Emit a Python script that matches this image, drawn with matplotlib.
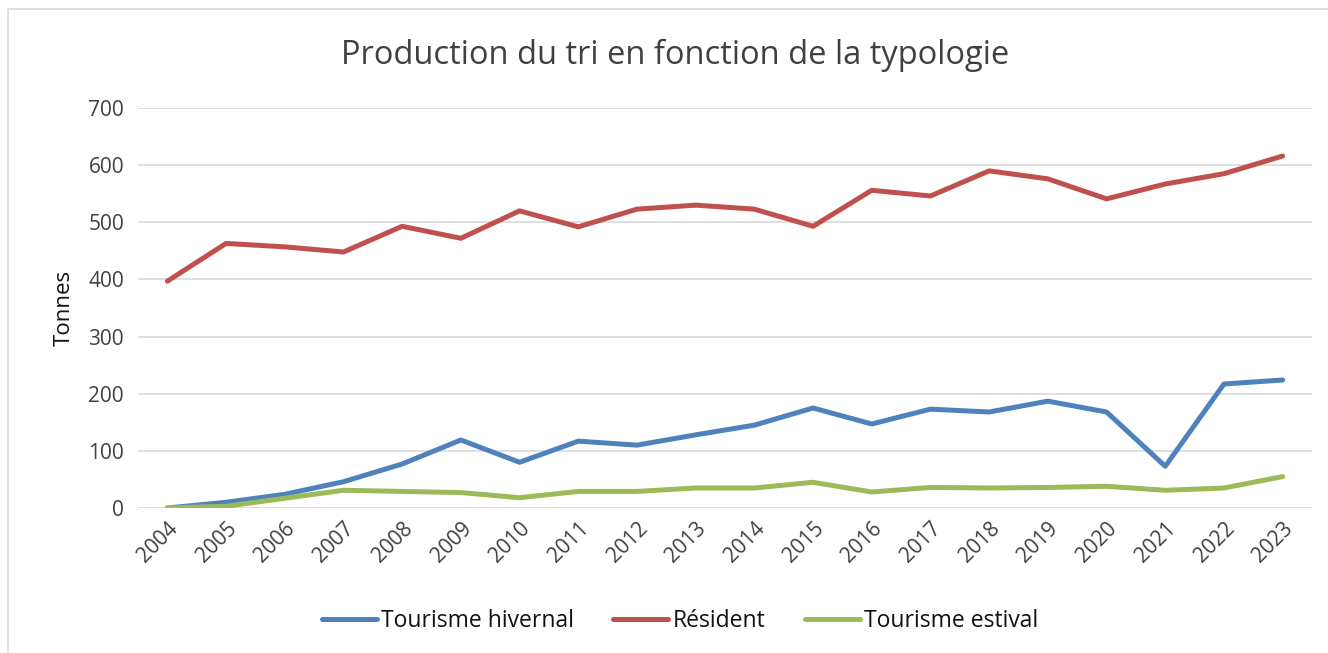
import matplotlib
matplotlib.use("Agg")
import matplotlib.pyplot as plt
from matplotlib.patches import Rectangle

years = [str(y) for y in range(2004, 2024)]
tourisme_hivernal = [0, 10, 24, 46, 77, 119, 80, 117, 110, 128, 145, 175, 147, 173, 168, 187, 168, 73, 217, 224]
resident = [397, 463, 457, 448, 493, 472, 520, 492, 523, 530, 523, 493, 556, 546, 590, 576, 541, 567, 585, 616]
tourisme_estival = [0, 3, 17, 31, 29, 27, 18, 29, 29, 35, 35, 45, 28, 36, 35, 36, 38, 31, 35, 55]
y_ticks = [0, 100, 200, 300, 400, 500, 600, 700]

plt.rcParams['font.family'] = ['Open Sans', 'DejaVu Sans']
W, H = 1328, 653
fig = plt.figure(figsize=(W / 100, H / 100), dpi=100)

# outer chart frame
fig.patches.append(Rectangle((8 / W, -0.1), 1.2, (H - 9) / H + 0.1, transform=fig.transFigure,
                             fill=False, edgecolor='#D9D9D9', linewidth=1.2))

ax = fig.add_axes([138 / W, 1 - 508 / H, 1174 / W, 400 / H])
x = list(range(len(years)))
ax.plot(x, tourisme_hivernal, color='#4F81BD', lw=3.6, label='Tourisme hivernal', solid_capstyle='round')
ax.plot(x, resident, color='#C0504D', lw=3.6, label='Résident', solid_capstyle='round')
ax.plot(x, tourisme_estival, color='#9BBB59', lw=3.6, label='Tourisme estival', solid_capstyle='round')

ax.set_xlim(-0.5, len(years) - 0.5)
ax.set_ylim(0, 700)
ax.set_yticks(y_ticks)
ax.set_xticks(x)
ax.set_xticklabels(years, rotation=45, ha='right', rotation_mode='anchor')
ax.grid(axis='y', color='#D9D9D9', lw=1.2)
ax.set_axisbelow(True)
for s in ax.spines.values():
    s.set_visible(False)
ax.tick_params(axis='both', length=0, labelsize=15, colors='#404040', pad=10)
ax.tick_params(axis='x', pad=7)
ax.set_ylabel('Tonnes', fontsize=16, color='#111111', labelpad=10)

fig.text(675 / W, 1 - 55 / H, 'Production du tri en fonction de la typologie', ha='center', va='center',
         fontsize=23.5, color='#404040')

fig.legend(loc='center', bbox_to_anchor=(680 / W, 1 - 621 / H), ncol=3, frameon=False,
           fontsize=16.5, handlelength=2.4, columnspacing=1.7, handletextpad=0.2,
           labelcolor='#111111')

fig.savefig('out.png', dpi=100)
